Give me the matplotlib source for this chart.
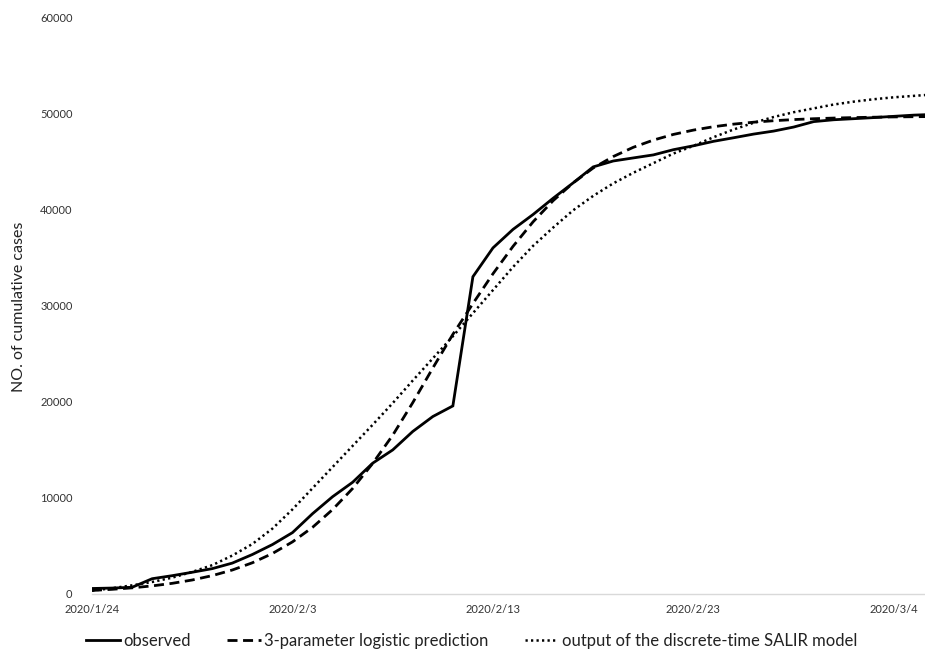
import matplotlib
matplotlib.use("Agg")
import matplotlib.pyplot as plt
import numpy as np

dates = ["2020/1/24", "2020/1/25", "2020/1/26", "2020/1/27", "2020/1/28", "2020/1/29", "2020/1/30",
         "2020/1/31", "2020/2/1", "2020/2/2", "2020/2/3", "2020/2/4", "2020/2/5", "2020/2/6",
         "2020/2/7", "2020/2/8", "2020/2/9", "2020/2/10", "2020/2/11", "2020/2/12", "2020/2/13",
         "2020/2/14", "2020/2/15", "2020/2/16", "2020/2/17", "2020/2/18", "2020/2/19", "2020/2/20",
         "2020/2/21", "2020/2/22", "2020/2/23", "2020/2/24", "2020/2/25", "2020/2/26", "2020/2/27",
         "2020/2/28", "2020/2/29", "2020/3/1", "2020/3/2", "2020/3/3", "2020/3/4", "2020/3/5",
         "2020/3/6"]

observed = [572, 618, 698, 1590, 1905, 2261, 2639, 3215, 4109, 5142, 6384, 8351, 10117, 11618,
            13603, 14982, 16902, 18454, 19558, 32994, 35991, 37914, 39462, 41152, 42752, 44412,
            45027, 45346, 45660, 46201, 46607, 47071, 47441, 47824, 48137, 48557, 49122, 49315,
            49426, 49540, 49671, 49797, 49871]

logistic = [367, 486, 640, 842, 1109, 1457, 1911, 2497, 3248, 4212, 5420, 6932, 8781, 10971,
            13579, 16512, 19900, 23500, 27000, 30200, 33300, 36150, 38700, 40900, 42750, 44300,
            45490, 46450, 47200, 47790, 48240, 48590, 48860, 49060, 49215, 49333, 49422, 49490,
            49541, 49580, 49609, 49632, 49648]

salir = [350, 600, 900, 1250, 1700, 2300, 3000, 4000, 5200, 6800, 8800, 11000, 13200, 15400,
         17600, 19850, 22200, 24500, 26800, 29200, 31600, 34000, 36200, 38100, 39900, 41400,
         42700, 43800, 44800, 45800, 46600, 47500, 48300, 49000, 49600, 50100, 50500, 50900,
         51200, 51450, 51650, 51800, 51950]

tick_labels = ["2020/1/24", "2020/2/3", "2020/2/13", "2020/2/23", "2020/3/4"]
y_ticks = [0, 10000, 20000, 30000, 40000, 50000, 60000]

cal = ["Lato", "DejaVu Sans"]

fig = plt.figure(figsize=(9.25, 6.57), dpi=100)
ax = fig.add_axes([92/925, 63/657, 833/925, 577/657])

x = np.arange(len(dates))
ax.plot(x, observed, color="black", lw=2.0, label="observed", solid_joinstyle="miter")
ax.plot(x, logistic, color="black", lw=2.0, ls=(0, (3.6, 2.0)), label="3-parameter logistic prediction")
ax.plot(x, salir, color="black", lw=1.8, ls=(0, (0.9, 1.3)), label="output of the discrete-time SALIR model")

ax.set_xlim(0, 41.55)
ax.set_ylim(0, 60000)
tick_pos = [dates.index(t) for t in tick_labels]
ax.set_xticks(tick_pos)
ax.set_xticklabels(tick_labels, family=cal, fontsize=8, color="#333333")
ax.set_yticks(y_ticks)
ax.set_yticklabels([str(v) for v in y_ticks], family=cal, fontsize=8, color="#333333")
ax.tick_params(axis="both", length=0)
ax.tick_params(axis="x", pad=7)
ax.tick_params(axis="y", pad=14)
for s in ["top", "right", "left"]:
    ax.spines[s].set_visible(False)
ax.spines["bottom"].set_color("#d9d9d9")
ax.spines["bottom"].set_linewidth(1.0)

fig.text(19/925, 1 - 307/657, "NO. of cumulative cases", rotation=90, ha="center", va="center",
         family=cal, fontsize=11.5, color="#222222")

leg = fig.legend(loc="center", bbox_to_anchor=(0.51, 0.024), ncol=3, frameon=False,
                 handlelength=2.0, columnspacing=2.2, handletextpad=0.2,
                 prop={"family": cal, "size": 12})
for t in leg.get_texts():
    t.set_color("#222222")

fig.savefig("out.png", dpi=100, facecolor="white")
